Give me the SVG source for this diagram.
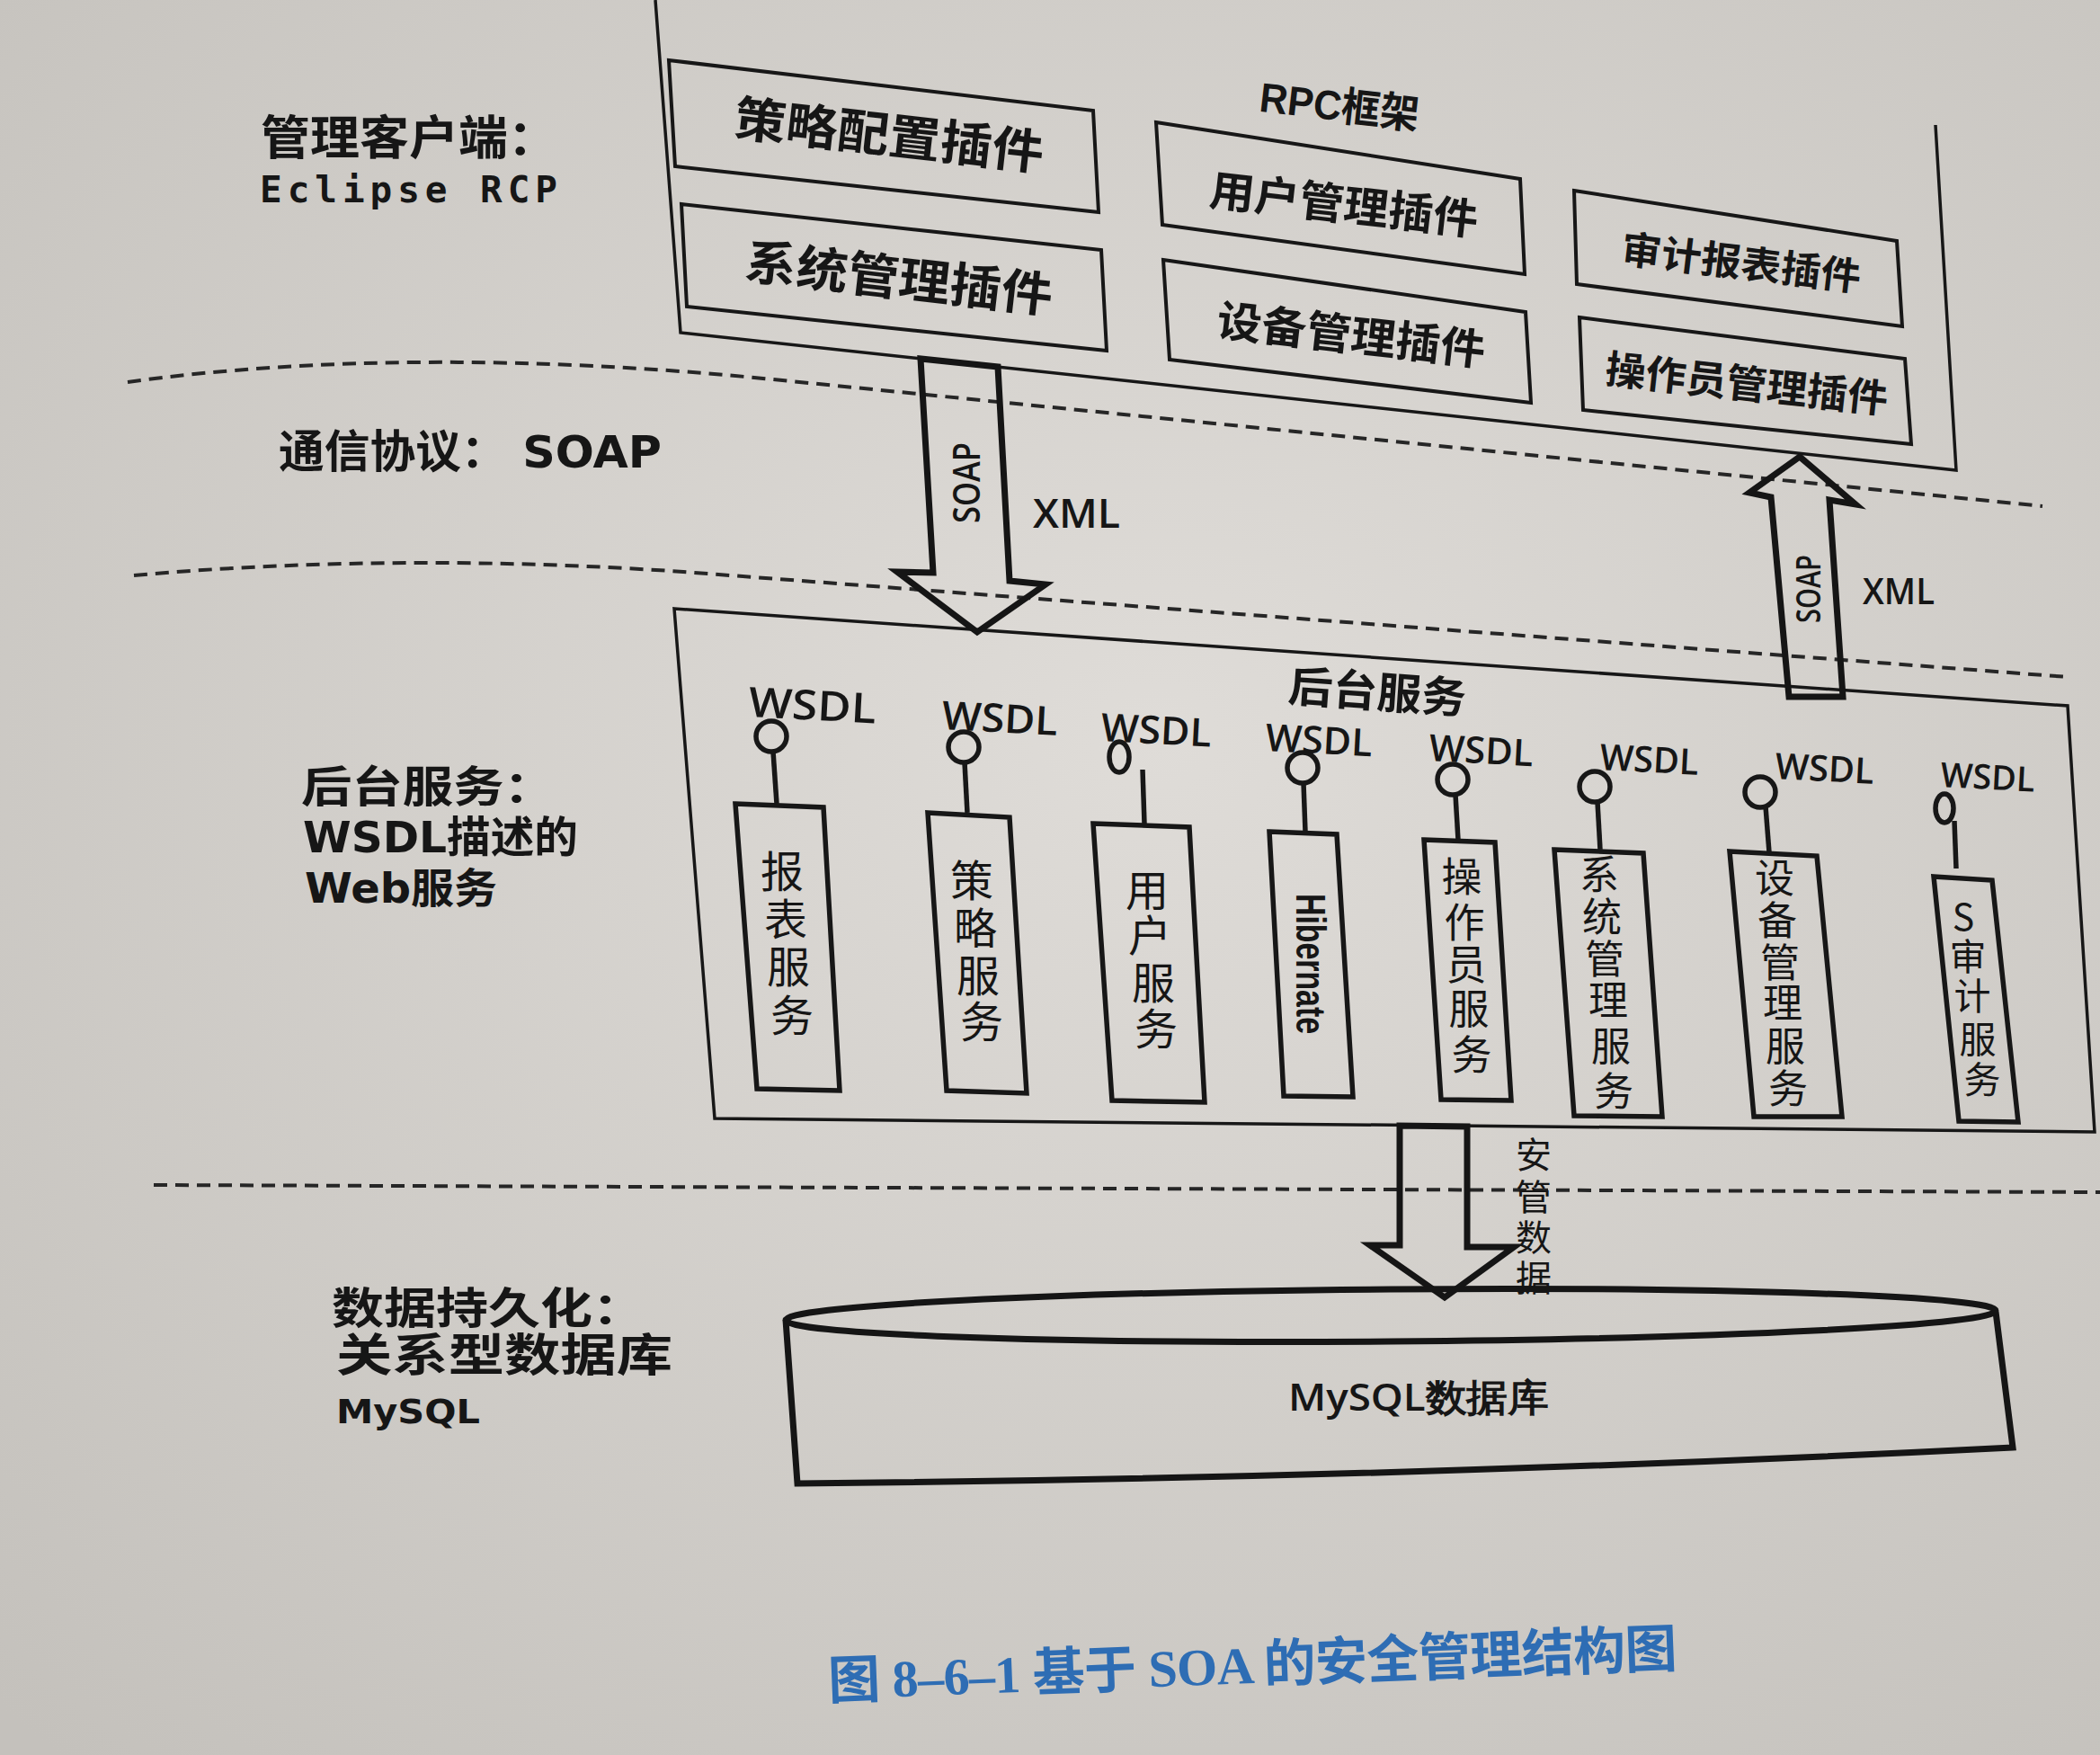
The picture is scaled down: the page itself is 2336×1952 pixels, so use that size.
<svg xmlns="http://www.w3.org/2000/svg" width="2336" height="1952" viewBox="0 0 2336 1952">
<defs>
<radialGradient id="paper" cx="0.55" cy="0.42" r="0.78">
<stop offset="0" stop-color="#dfdcd8"/>
<stop offset="1" stop-color="#c4c1bc"/>
</radialGradient>
</defs>
<style>
.ln{fill:none;stroke:#171717;stroke-linejoin:miter}
.frame{stroke-width:3.5}
.plug{stroke-width:4}
.svc{stroke-width:5.5}
.arrow{fill:none;stroke:#151515;stroke-width:7;stroke-linejoin:miter}
.db{fill:none;stroke:#151515;stroke-width:7}
.dash{fill:none;stroke:#262626;stroke-width:4;stroke-dasharray:15 9}
.hl{font-family:"Liberation Sans","Noto Sans CJK SC",sans-serif;font-weight:bold;fill:#161616}
.side{font-family:"DejaVu Sans","Noto Sans CJK SC",sans-serif;font-weight:bold;fill:#161616}
.mono{font-family:"DejaVu Sans Mono",monospace;font-weight:bold;fill:#161616}
.svt{font-family:"Noto Sans CJK SC",sans-serif;fill:#161616;text-anchor:middle}
.ws{font-family:"Open Sans","Liberation Sans",sans-serif;font-weight:600;fill:#161616}
.cap{font-family:"Liberation Serif","Noto Sans CJK SC",serif;font-weight:bold;fill:#2e6db4}
</style>
<rect width="2336" height="1952" fill="url(#paper)"/>

<g id="separators">
<path class="dash" d="M142 425 C350 396 600 396 860 422 L2272 563"/>
<path class="dash" d="M149 640 C350 622 560 622 760 636 L2300 753"/>
<path class="dash" d="M171 1318 L2336 1326"/>
</g>

<g id="label-client">
<text class="side" x="290" y="172" font-size="52" textLength="330" lengthAdjust="spacingAndGlyphs">管理客户端：</text>
<text class="mono" x="289" y="225" font-size="41" textLength="331">Eclipse RCP</text>
</g>
<g id="label-protocol">
<text class="side" x="310" y="520" font-size="50" textLength="426" lengthAdjust="spacingAndGlyphs">通信协议： SOAP</text>
</g>
<g id="label-backend">
<text class="side" x="335" y="892" font-size="48" textLength="282" lengthAdjust="spacingAndGlyphs">后台服务：</text>
<text class="side" x="337" y="948" font-size="48" textLength="306" lengthAdjust="spacingAndGlyphs">WSDL描述的</text>
<text class="side" x="339" y="1004" font-size="46" textLength="214" lengthAdjust="spacingAndGlyphs">Web服务</text>
</g>
<g id="label-persistence">
<text class="side" x="369" y="1472" font-size="48" textLength="348" lengthAdjust="spacingAndGlyphs">数据持久化：</text>
<text class="side" x="374" y="1525" font-size="50" textLength="374" lengthAdjust="spacingAndGlyphs">关系型数据库</text>
<text class="side" x="374" y="1583" font-size="38" textLength="160" lengthAdjust="spacingAndGlyphs">MySQL</text>
</g>

<g id="rpc-frame">
<path class="ln frame" d="M729 0 L757 370 L2176 523 L2153 139"/>
<text class="hl" x="1490" y="134" font-size="46" textLength="178" lengthAdjust="spacingAndGlyphs" text-anchor="middle" transform="rotate(6.5 1490 118)">RPC框架</text>
</g>
<g id="plugin-policy">
<polygon class="ln plug" points="744,67 1216,123 1222,236 751,185"/>
<text class="hl" x="989" y="170" font-size="54" textLength="346" lengthAdjust="spacingAndGlyphs" text-anchor="middle" transform="rotate(6.5 989 151)">策略配置插件</text>
</g>
<g id="plugin-system">
<polygon class="ln plug" points="758,227 1225,278 1231,390 764,341"/>
<text class="hl" x="1000" y="329" font-size="54" textLength="344" lengthAdjust="spacingAndGlyphs" text-anchor="middle" transform="rotate(6.5 1000 310)">系统管理插件</text>
</g>
<g id="plugin-user">
<polygon class="ln plug" points="1286,136 1691,199 1696,305 1293,250"/>
<text class="hl" x="1495" y="245" font-size="48" textLength="300" lengthAdjust="spacingAndGlyphs" text-anchor="middle" transform="rotate(6.5 1495 228)">用户管理插件</text>
</g>
<g id="plugin-device">
<polygon class="ln plug" points="1294,289 1697,347 1703,448 1301,400"/>
<text class="hl" x="1503" y="390" font-size="48" textLength="300" lengthAdjust="spacingAndGlyphs" text-anchor="middle" transform="rotate(6.5 1503 373)">设备管理插件</text>
</g>
<g id="plugin-audit">
<polygon class="ln plug" points="1751,212 2110,268 2116,363 1754,316"/>
<text class="hl" x="1937" y="308" font-size="43" textLength="268" lengthAdjust="spacingAndGlyphs" text-anchor="middle" transform="rotate(6.8 1937 292)">审计报表插件</text>
</g>
<g id="plugin-operator">
<polygon class="ln plug" points="1757,353 2119,399 2126,494 1761,456"/>
<text class="hl" x="1943" y="443" font-size="44" textLength="316" lengthAdjust="spacingAndGlyphs" text-anchor="middle" transform="rotate(6.2 1943 427)">操作员管理插件</text>
</g>

<g id="backend-box">
<polygon class="ln frame" points="750,677 2300,785 2330,1259 795,1244"/>
<text class="hl" x="1532" y="787" font-size="48" textLength="198" lengthAdjust="spacingAndGlyphs" text-anchor="middle" transform="rotate(4 1532 770)">后台服务</text>
</g>

<g id="svc-report">
<polygon class="ln svc" points="818,894 916,898 934,1213 842,1211"/>
<ellipse class="ln svc" cx="858" cy="819" rx="17" ry="17"/>
<line class="ln svc" x1="860" y1="836" x2="864" y2="894"/>
<text class="ws" x="832" y="797" font-size="46" textLength="142" lengthAdjust="spacingAndGlyphs" transform="rotate(3 832 797)">WSDL</text>
<text class="svt" font-size="48"><tspan x="870" y="987">报</tspan><tspan x="874" y="1040">表</tspan><tspan x="877" y="1093">服</tspan><tspan x="881" y="1147">务</tspan></text>
</g>
<g id="svc-policy">
<polygon class="ln svc" points="1032,904 1123,909 1142,1216 1053,1213"/>
<ellipse class="ln svc" cx="1072" cy="831" rx="17" ry="17"/>
<line class="ln svc" x1="1073" y1="848" x2="1076" y2="904"/>
<text class="ws" x="1047" y="811" font-size="44" textLength="129" lengthAdjust="spacingAndGlyphs" transform="rotate(3 1047 811)">WSDL</text>
<text class="svt" font-size="48"><tspan x="1081" y="997">策</tspan><tspan x="1085" y="1050">略</tspan><tspan x="1088" y="1103">服</tspan><tspan x="1092" y="1154">务</tspan></text>
</g>
<g id="svc-user">
<polygon class="ln svc" points="1216,916 1323,920 1340,1226 1237,1224"/>
<ellipse class="ln svc" cx="1245" cy="842" rx="11" ry="17"/>
<line class="ln svc" x1="1271" y1="856" x2="1273" y2="916"/>
<text class="ws" x="1224" y="824" font-size="43" textLength="123" lengthAdjust="spacingAndGlyphs" transform="rotate(3 1224 824)">WSDL</text>
<text class="svt" font-size="48"><tspan x="1276" y="1008">用</tspan><tspan x="1279" y="1058">户</tspan><tspan x="1283" y="1111">服</tspan><tspan x="1286" y="1162">务</tspan></text>
</g>
<g id="svc-hibernate">
<polygon class="ln svc" points="1412,925 1487,928 1505,1220 1428,1219"/>
<ellipse class="ln svc" cx="1449" cy="854" rx="17" ry="17"/>
<line class="ln svc" x1="1450" y1="871" x2="1452" y2="925"/>
<text class="ws" x="1407" y="835" font-size="42" textLength="119" lengthAdjust="spacingAndGlyphs" transform="rotate(3 1407 835)">WSDL</text>
<text class="hl" x="1458" y="1088" font-size="46" textLength="156" lengthAdjust="spacingAndGlyphs" text-anchor="middle" transform="rotate(90 1458 1072)">Hibernate</text>
</g>
<g id="svc-operator">
<polygon class="ln svc" points="1584,934 1663,937 1681,1224 1603,1223"/>
<ellipse class="ln svc" cx="1616" cy="867" rx="17" ry="17"/>
<line class="ln svc" x1="1619" y1="884" x2="1622" y2="934"/>
<text class="ws" x="1589" y="846" font-size="41" textLength="116" lengthAdjust="spacingAndGlyphs" transform="rotate(3 1589 846)">WSDL</text>
<text class="svt" font-size="45"><tspan x="1626" y="992">操</tspan><tspan x="1629" y="1043">作</tspan><tspan x="1631" y="1090">员</tspan><tspan x="1634" y="1139">服</tspan><tspan x="1637" y="1190">务</tspan></text>
</g>
<g id="svc-system">
<polygon class="ln svc" points="1729,945 1828,949 1849,1242 1751,1241"/>
<ellipse class="ln svc" cx="1774" cy="875" rx="17" ry="17"/>
<line class="ln svc" x1="1777" y1="892" x2="1780" y2="945"/>
<text class="ws" x="1779" y="856" font-size="40" textLength="110" lengthAdjust="spacingAndGlyphs" transform="rotate(3 1779 856)">WSDL</text>
<text class="svt" font-size="44"><tspan x="1779" y="989">系</tspan><tspan x="1782" y="1036">统</tspan><tspan x="1785" y="1083">管</tspan><tspan x="1789" y="1129">理</tspan><tspan x="1792" y="1180">服</tspan><tspan x="1795" y="1230">务</tspan></text>
</g>
<g id="svc-device">
<polygon class="ln svc" points="1924,947 2021,952 2049,1242 1951,1242"/>
<ellipse class="ln svc" cx="1958" cy="881" rx="17" ry="17"/>
<line class="ln svc" x1="1964" y1="897" x2="1968" y2="948"/>
<text class="ws" x="1974" y="866" font-size="40" textLength="110" lengthAdjust="spacingAndGlyphs" transform="rotate(3 1974 866)">WSDL</text>
<text class="svt" font-size="44"><tspan x="1974" y="993">设</tspan><tspan x="1977" y="1040">备</tspan><tspan x="1980" y="1087">管</tspan><tspan x="1983" y="1132">理</tspan><tspan x="1986" y="1180">服</tspan><tspan x="1989" y="1227">务</tspan></text>
</g>
<g id="svc-audit">
<polygon class="ln svc" points="2151,975 2216,979 2245,1248 2179,1247"/>
<ellipse class="ln svc" cx="2163" cy="899" rx="10" ry="16"/>
<line class="ln svc" x1="2174" y1="913" x2="2176" y2="966"/>
<text class="ws" x="2158" y="875" font-size="38" textLength="105" lengthAdjust="spacingAndGlyphs" transform="rotate(3 2158 875)">WSDL</text>
<text class="svt" font-size="41"><tspan x="2184" y="1035">S</tspan><tspan x="2189" y="1079">审</tspan><tspan x="2194" y="1123">计</tspan><tspan x="2200" y="1171">服</tspan><tspan x="2205" y="1216">务</tspan></text>
</g>

<g id="connectors">
<g id="arrow-soap-down">
<polygon class="arrow" points="1024,399 1038,637 998,636 1087,703 1163,650 1123,646 1110,408"/>
<text class="ws" x="1075" y="552" font-size="42" textLength="90" lengthAdjust="spacingAndGlyphs" text-anchor="middle" transform="rotate(-90 1075 537)">SOAP</text>
<text class="ws" x="1149" y="587" font-size="46" textLength="97" lengthAdjust="spacingAndGlyphs">XML</text>
</g>
<g id="arrow-soap-up">
<polygon class="arrow" points="1990,775 1970,553 1946,548 2002,508 2064,561 2035,556 2050,775"/>
<text class="ws" x="2012" y="668" font-size="38" textLength="76" lengthAdjust="spacingAndGlyphs" text-anchor="middle" transform="rotate(-90 2012 655)">SOAP</text>
<text class="ws" x="2072" y="672" font-size="40" textLength="80" lengthAdjust="spacingAndGlyphs">XML</text>
</g>
<g id="arrow-data">
<polygon class="arrow" points="1557,1252 1557,1385 1524,1385 1607,1443 1684,1387 1632,1387 1632,1253"/>
<text class="svt" font-size="40"><tspan x="1706" y="1299">安</tspan><tspan x="1706" y="1346">管</tspan><tspan x="1706" y="1391">数</tspan><tspan x="1706" y="1436">据</tspan></text>
</g>
</g>

<g id="mysql-db">
<path class="db" d="M874 1468 L887 1650 Q1563 1644 2239 1610 L2220 1459"/>
<ellipse class="db" cx="1547" cy="1463" rx="673" ry="29" transform="rotate(-0.45 1547 1463)"/>
<text class="ws" x="1578" y="1569" font-size="42" textLength="290" lengthAdjust="spacingAndGlyphs" text-anchor="middle">MySQL数据库</text>
</g>

<g id="caption">
<text class="cap" x="922" y="1890" font-size="58" textLength="945" transform="rotate(-2.2 922 1890)">图 8–6–1 基于 SOA 的安全管理结构图</text>
</g>
</svg>
